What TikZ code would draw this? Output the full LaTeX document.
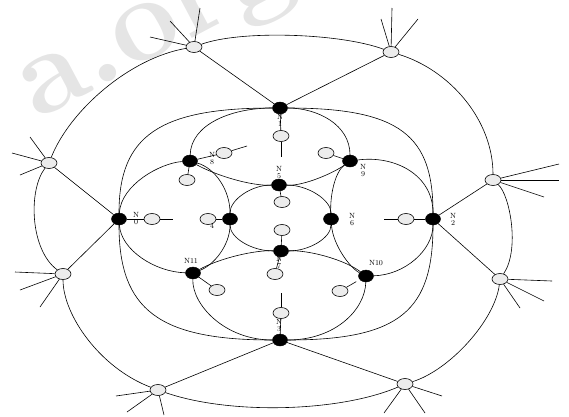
\documentclass[tikz,border=0pt]{standalone}
\usepackage{tikz}
\usetikzlibrary{shapes.geometric}

\begin{document}
\begin{tikzpicture}[x=1pt, y=-1pt,
    hub/.style={ellipse, draw=black, fill=black, minimum width=15pt, minimum height=12pt, inner sep=0pt},
    leaf/.style={ellipse, draw=black, fill=gray!15, minimum width=16pt, minimum height=11pt, inner sep=0pt, line width=0.6pt},
    lbl/.style={font=\fontsize{7.5}{7}\selectfont, align=center, inner sep=0pt},
    wire/.style={draw, line width=0.6pt},
    wmark/.style={font=\fontsize{120}{120}\selectfont\bfseries, text=gray!20, rotate=28, inner sep=0pt}
]
\useasboundingbox (0,0) rectangle (569,416);

% watermark
\node [wmark] (mark) at (160,38) {a.org};

% black switching nodes
\node [hub] (N1)  at (280,108) {};
\node [hub] (N8)  at (190,161) {};
\node [hub] (N9)  at (350,161) {};
\node [hub] (N5)  at (279,185) {};
\node [hub] (N0)  at (119,219) {};
\node [hub] (N4)  at (230,219) {};
\node [hub] (N6)  at (331,219) {};
\node [hub] (N2)  at (433,219) {};
\node [hub] (N7)  at (281,251) {};
\node [hub] (N11) at (193,273) {};
\node [hub] (N10) at (366,276) {};
\node [hub] (N3)  at (280,340) {};

% outer ring hosts
\node [leaf] (O1) at (194,47) {};
\node [leaf] (O2) at (391,52) {};
\node [leaf] (O3) at (493,180) {};
\node [leaf] (O4) at (500,279) {};
\node [leaf] (O5) at (405,384) {};
\node [leaf] (O6) at (158,390) {};
\node [leaf] (O7) at (63,274) {};
\node [leaf] (O8) at (49,163) {};

% inner hosts
\node [leaf] (P1)  at (281,136) {};
\node [leaf] (P8a) at (224,153) {};
\node [leaf] (P8b) at (187,180) {};
\node [leaf] (P9)  at (326,153) {};
\node [leaf] (P5)  at (282,202) {};
\node [leaf] (P0)  at (152,219) {};
\node [leaf] (P4)  at (208,219) {};
\node [leaf] (P2)  at (406,219) {};
\node [leaf] (P7a) at (282,230) {};
\node [leaf] (P7b) at (275,274) {};
\node [leaf] (P11) at (217,290) {};
\node [leaf] (P10) at (340,291) {};
\node [leaf] (P3)  at (281,313) {};

% labels
\node [lbl] (lN1)  at (280,120) {N\\1};
\node [lbl] (lN8)  at (212,159) {N\\8};
\node [lbl] (lN9)  at (363,171) {N\\9};
\node [lbl] (lN5)  at (279,173) {N\\5};
\node [lbl] (lN0)  at (136,219) {N\\0};
\node [lbl] (lN4)  at (212,226) {4};
\node [lbl] (lN6)  at (352,220) {N\\6};
\node [lbl] (lN2)  at (453,219) {N\\2};
\node [lbl] (lN7)  at (279,263) {N\\7};
\node [lbl] (lN11) at (191,261) {N11};
\node [lbl] (lN10) at (376,263) {N10};
\node [lbl] (lN3)  at (279,326) {N\\3};

% outer ring
\draw [wire] (O1) .. controls (240,30) and (340,33) .. (O2);
\draw [wire] (O2) .. controls (450,70) and (493,120) .. (O3);
\draw [wire] (O3) .. controls (510,195) and (520,250) .. (O4);
\draw [wire] (O4) .. controls (495,320) and (450,370) .. (O5);
\draw [wire] (O5) .. controls (340,412) and (230,415) .. (O6);
\draw [wire] (O6) .. controls (100,368) and (63,315) .. (O7);
\draw [wire] (O7) .. controls (30,250) and (28,190) .. (O8);
\draw [wire] (O8) .. controls (70,110) and (130,58) .. (O1);

% spokes to the ring
\draw [wire] (N1) -- (O1);
\draw [wire] (N1) -- (O2);
\draw [wire] (N2) -- (O3);
\draw [wire] (N2) -- (O4);
\draw [wire] (N3) -- (O5);
\draw [wire] (N3) -- (O6);
\draw [wire] (N0) -- (O7);
\draw [wire] (N0) -- (O8);

% big arcs
\draw [wire] (N1) .. controls (159,108) and (119,136) .. (N0);
\draw [wire] (N1) .. controls (401,108) and (433,136) .. (N2);
\draw [wire] (N0) .. controls (119,310) and (159,340) .. (N3);
\draw [wire] (N2) .. controls (433,310) and (401,340) .. (N3);

% top loop
\draw [wire] (N8) .. controls (191,125) and (230,108) .. (N1);
\draw [wire] (N9) .. controls (350,125) and (318,108) .. (N1);
\draw [wire] (N8) .. controls (215,175) and (250,186) .. (N5);
\draw [wire] (N5) .. controls (305,186) and (335,172) .. (N9);

% left loop
\draw [wire] (N8) .. controls (160,163) and (121,185) .. (N0);
\draw [wire] (N0) .. controls (121,250) and (155,272) .. (N11);
\draw [wire] (N8) .. controls (215,168) and (230,190) .. (N4);
\draw [wire] (N4) .. controls (230,245) and (214,265) .. (N11);

% right loop
\draw [wire] (N9) .. controls (395,155) and (433,175) .. (N2);
\draw [wire] (N10) .. controls (405,275) and (433,250) .. (N2);
\draw [wire] (N9) .. controls (335,172) and (330,195) .. (N6);
\draw [wire] (N6) .. controls (333,245) and (350,268) .. (N10);

% bottom loop
\draw [wire] (N11) .. controls (192,305) and (225,340) .. (N3);
\draw [wire] (N10) .. controls (365,310) and (335,340) .. (N3);
\draw [wire] (N11) .. controls (220,258) and (255,250) .. (N7);
\draw [wire] (N7) .. controls (310,250) and (345,260) .. (N10);

% centre ring
\draw [wire] (N4) .. controls (230,200) and (251,185) .. (N5);
\draw [wire] (N5) .. controls (308,185) and (331,200) .. (N6);
\draw [wire] (N6) .. controls (331,238) and (309,251) .. (N7);
\draw [wire] (N7) .. controls (252,251) and (230,238) .. (N4);

% host links
\draw [wire] (N1) -- (P1);
\draw [wire] (N8) -- (P8a);
\draw [wire] (N8) -- (P8b);
\draw [wire] (N9) -- (P9);
\draw [wire] (N5) -- (P5);
\draw [wire] (N0) -- (P0);
\draw [wire] (N4) -- (P4);
\draw [wire] (N2) -- (P2);
\draw [wire] (N7) -- (P7a);
\draw [wire] (N7) -- (P7b);
\draw [wire] (N11) -- (P11);
\draw [wire, shorten >=4pt] (P10) -- (N10);
\draw [wire] (N3) -- (P3);

% open stubs of inner hosts
\foreach \h/\a/\b [count=\i] in {P1/281/157, P8a/247/146, P0/173/219, P2/384/219, P3/281/293}
{
    \coordinate (e\i) at (\a,\b);
    \draw [wire] (\h) -- (e\i);
}

% open stubs of ring hosts
\foreach \h/\a/\b [count=\i] in {O1/150/37, O1/170/21, O1/200/8,
    O2/381/19, O2/392/8, O2/418/19,
    O3/559/164, O3/559/180, O3/544/197,
    O4/552/281, O4/544/301, O4/520/308,
    O5/442/396, O5/384/413, O5/425/413,
    O6/116/396, O6/127/412, O6/164/415,
    O7/15/272, O7/20/290, O7/40/307,
    O8/12/153, O8/30/137, O8/20/175}
{
    \coordinate (s\i) at (\a,\b);
    \draw [wire] (\h) -- (s\i);
}
\end{tikzpicture}
\end{document}
